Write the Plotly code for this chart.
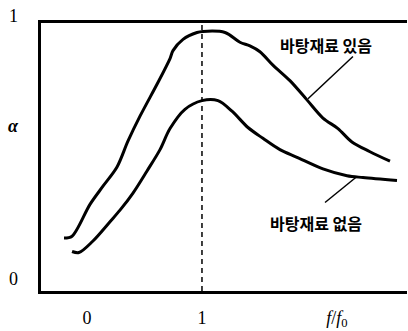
import plotly.graph_objects as go

# Absorption coefficient vs normalised frequency, with and without backing material
x_with = [-0.200, -0.130, 0.026, 0.139, 0.261, 0.357, 0.461, 0.617, 0.722, 0.748, 0.835,
          0.957, 1.009, 1.200, 1.330, 1.417, 1.504, 1.617, 1.765, 1.913, 2.052, 2.183,
          2.304, 2.461, 2.635]
a_with = [0.157, 0.164, 0.285, 0.354, 0.427, 0.526, 0.620, 0.748, 0.839, 0.869, 0.912,
          0.938, 0.942, 0.938, 0.901, 0.887, 0.865, 0.814, 0.755, 0.682, 0.613, 0.573,
          0.522, 0.485, 0.449]

x_without = [-0.130, -0.070, 0.052, 0.200, 0.287, 0.400, 0.522, 0.635, 0.722, 0.852, 1.000,
             1.139, 1.261, 1.400, 1.530, 1.678, 1.826, 2.052, 2.261, 2.400, 2.696]
a_without = [0.106, 0.102, 0.146, 0.219, 0.263, 0.328, 0.412, 0.493, 0.573, 0.646, 0.679,
             0.679, 0.639, 0.577, 0.536, 0.493, 0.464, 0.420, 0.394, 0.387, 0.376]

series_labels = ["바탕재료 있음", "바탕재료 없음"]
x_tick_vals = [0, 1, 2.174]
x_tick_text = ["0", "1", "<i>f</i>/<i>f</i><sub>0</sub>"]
# y labels sit slightly off the frame, so they are placed in paper units
y_label_pos = [0.043, 0.616, 1.025]
y_label_text = ["0", "<i><b>α</b></i>", "1"]
resonance = 1.0

SERIF = "Liberation Serif, Times New Roman, serif"
KR = "Noto Sans CJK KR, sans-serif"

fig = go.Figure()
for xs, ys in [(x_with, a_with), (x_without, a_without)]:
    fig.add_trace(go.Scatter(
        x=xs, y=ys, mode="lines",
        line=dict(color="black", width=3, shape="spline", smoothing=0.9),
        hoverinfo="skip", showlegend=False,
    ))

# resonance marker
fig.add_shape(type="line", xref="x", yref="paper", x0=resonance, x1=resonance, y0=0, y1=1,
              line=dict(color="black", width=1.5, dash="5px,4px"))

# leader lines from the labels to the curves
leaders = [((2.313, 0.847), (1.922, 0.686)), ((2.348, 0.391), (2.070, 0.292))]
for (x0, y0), (x1, y1) in leaders:
    fig.add_shape(type="line", x0=x0, y0=y0, x1=x1, y1=y1,
                  line=dict(color="black", width=1.5))

label_pos = [(2.078, 0.891), (1.991, 0.215)]
for (lx, ly), txt in zip(label_pos, series_labels):
    fig.add_annotation(x=lx, y=ly, text=f"<b>{txt}</b>", showarrow=False,
                       font=dict(family=KR, size=16, color="black"))

for v, t in zip(y_label_pos, y_label_text):
    fig.add_annotation(xref="paper", yref="paper", x=-0.074, y=v, text=t,
                       showarrow=False, xanchor="center", yanchor="middle",
                       font=dict(family=SERIF, size=18, color="black"))

fig.update_layout(
    width=408, height=331,
    margin=dict(l=41, r=1, t=23, b=29),
    plot_bgcolor="white", paper_bgcolor="white",
    xaxis=dict(range=[-0.4, 2.783], showgrid=False, zeroline=False,
               showline=True, linecolor="black", linewidth=3, mirror=True,
               tickvals=x_tick_vals, ticktext=x_tick_text,
               ticks="outside", ticklen=8, tickcolor="rgba(0,0,0,0)",
               tickfont=dict(family=SERIF, size=18, color="black")),
    yaxis=dict(range=[-0.044, 0.974], showgrid=False, zeroline=False,
               showline=True, linecolor="black", linewidth=3,
               showticklabels=False),
)

fig.write_html("out.html")
